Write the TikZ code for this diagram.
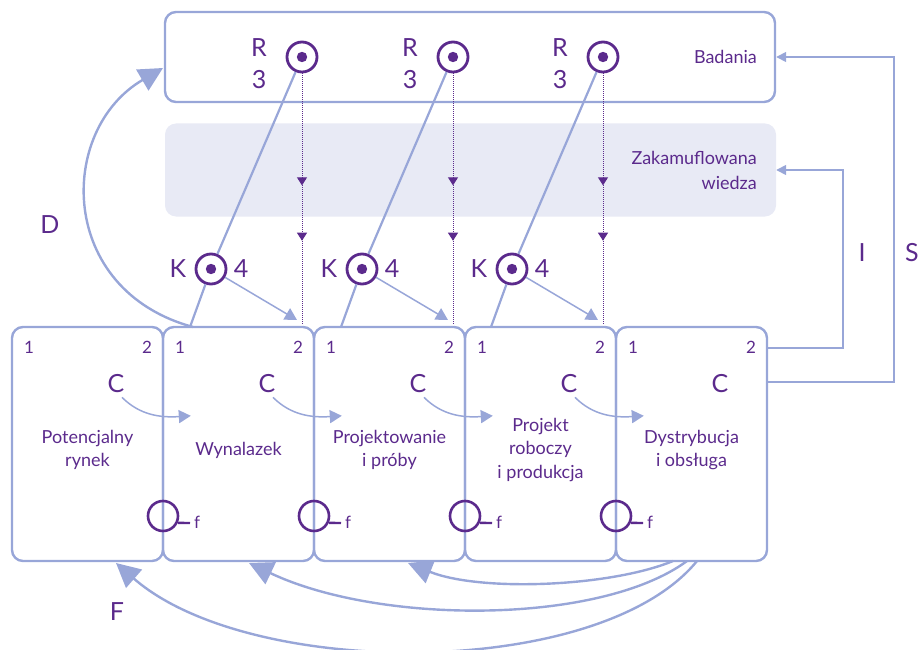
\documentclass[tikz,border=0pt]{standalone}
\usepackage{fontspec}
\setmainfont{Lato}
\usetikzlibrary{arrows.meta,decorations.markings,calc}
\definecolor{ink}{HTML}{5B2A8C}
\definecolor{wire}{HTML}{98A6D8}
\definecolor{haze}{HTML}{E8EAF5}

\begin{document}
\begin{tikzpicture}[x=1pt,y=-1pt,
  panel/.style={draw=wire,line width=2.4pt,rounded corners=11pt,inner sep=0},
  stagebox/.style={panel,minimum width=151pt,minimum height=234pt},
  ring/.style={circle,draw=ink,line width=2.8pt,fill=white,minimum size=30pt,inner sep=0},
  fring/.style={circle,draw=ink,line width=2.6pt,minimum size=30pt,inner sep=0},
  big/.style={text=ink,font=\fontsize{25}{25}\selectfont,inner sep=0},
  idx/.style={text=ink,font=\fontsize{17}{17}\selectfont,inner sep=0},
  lbl/.style={text=ink,font=\fontsize{18}{23.5}\selectfont,align=center,inner sep=0},
  rlbl/.style={text=ink,font=\fontsize{18}{25}\selectfont,align=right,inner sep=0},
  heavy/.style={draw=wire,line width=2.4pt,-{Triangle[length=24pt,width=24pt]}},
  rod/.style={draw=wire,line width=2.2pt},
  light/.style={draw=wire,line width=1.5pt,-{Triangle[length=12pt,width=13pt]}},
  feed/.style={draw=wire,line width=1.6pt,-{Triangle[length=10pt,width=10pt]}},
  probe/.style={draw=ink,line width=1pt,densely dotted,
    postaction={decorate,decoration={markings,
      mark=at position 0.445 with {\arrow[ink,solid]{Triangle[length=8pt,width=10pt]}},
      mark=at position 0.665 with {\arrow[ink,solid]{Triangle[length=8pt,width=10pt]}}}}}
]
\useasboundingbox (0,0) rectangle (921,650);

% research band and hidden-knowledge band
\node[panel,minimum width=610pt,minimum height=90pt] (top) at (470,57) {};
\node[rounded corners=11pt,fill=haze,minimum width=611pt,minimum height=93pt,inner sep=0] (zak) at (470.5,170) {};
\node[rlbl,anchor=east] (bad) at (757,57) {Badania};
\node[rlbl,anchor=east] (zaklbl) at (757,170) {Zakamuflowana\\wiedza};

% five stages of the chain
\foreach \i/\t in {1/{Potencjalny\\rynek},2/{Wynalazek},3/{Projektowanie\\i próby},4/{Projekt\\roboczy\\i produkcja},5/{Dystrybucja\\i obsługa}}{
  \pgfmathsetmacro{\lx}{12+151*(\i-1)}
  \node[stagebox] (s\i) at (\lx+75.5,444) {};
  \node[idx] (one\i) at (\lx+17,347) {1};
  \node[idx] (two\i) at (\lx+135,347) {2};
  \node[big] (c\i) at (\lx+104,384) {C};
  \node[lbl] (name\i) at (\lx+75.5,450) {\t};
}

% feedback loops f on the stage borders
\foreach \i in {1,2,3,4}{
  \pgfmathsetmacro{\bx}{12+151*\i}
  \node[fring] (f\i) at (\bx,516) {};
  \coordinate (ft\i) at (\bx+27,523);
  \draw[ink,line width=2.4pt] (f\i.-25) -- (ft\i);
  \node[idx,anchor=west] (fl\i) at (\bx+31,522) {f};
}

% research links R -> K -> stage
\foreach \i/\x in {1/302,2/453,3/603}{
  \node[ring] (r\i) at (\x,57) {};
  \fill[ink] (r\i.center) circle (5.2);
  \node[big] (rl\i) at (\x-43,48) {R};
  \node[big] (rn\i) at (\x-43,80) {3};
  \node[ring] (k\i) at (\x-91,269) {};
  \fill[ink] (k\i.center) circle (5.2);
  \node[big] (kl\i) at (\x-124,269) {K};
  \node[big] (kn\i) at (\x-61,269) {4};
  \coordinate (foot\i) at (\x-112,327);
  \coordinate (kend\i) at (\x-5,320);
  \coordinate (pend\i) at (\x,325);
}
\foreach \i in {1,2,3}{
  \draw[rod] (r\i) -- (k\i);
  \draw[rod] (k\i) -- (foot\i);
  \draw[light] (k\i) -- (kend\i);
  \draw[probe] (r\i) -- (pend\i);
}

% coupling C between neighbouring stages
\foreach \i/\j in {1/2,2/3,3/4,4/5}{
  \coordinate (cend\i) at ($(s\j.north west)+(29,90)$);
  \draw[light] ($(c\i.south)+(6,4)$) .. controls +(18,18) and +(-30,2) .. (cend\i);
}

% D: from invention back to research
\coordinate (dstart) at (193,327);
\coordinate (dend) at (163,68);
\draw[heavy] (dstart) .. controls (57,290) and (57,130) .. (dend);
\node[big] (dl) at (50,225) {D};

% F: feedback from distribution to earlier stages
\coordinate (fa) at (673,561);
\coordinate (fb) at (687,561);
\coordinate (fc) at (697,561);
\coordinate (fe3) at (408,563);
\coordinate (fe2) at (249,563);
\coordinate (fe1) at (116,563);
\draw[heavy] (fa) .. controls (610,587) and (480,592) .. (fe3);
\draw[heavy] (fb) .. controls (600,625) and (380,625) .. (fe2);
\draw[heavy] (fc) .. controls (600,680) and (250,680) .. (fe1);
\node[big] (fl) at (117,612) {F};

% I and S: returns to hidden knowledge and research
\coordinate (iturn) at (843,170);
\coordinate (sturn) at (894,57);
\draw[feed] ($(s5.north east)+(0,22)$) -| (iturn) -- (zak.east |- iturn);
\draw[feed] ($(s5.north east)+(0,56)$) -| (sturn) -- (top.east);
\node[big] (il) at (862,253) {I};
\node[big] (sl) at (912,253) {S};
\end{tikzpicture}
\end{document}
